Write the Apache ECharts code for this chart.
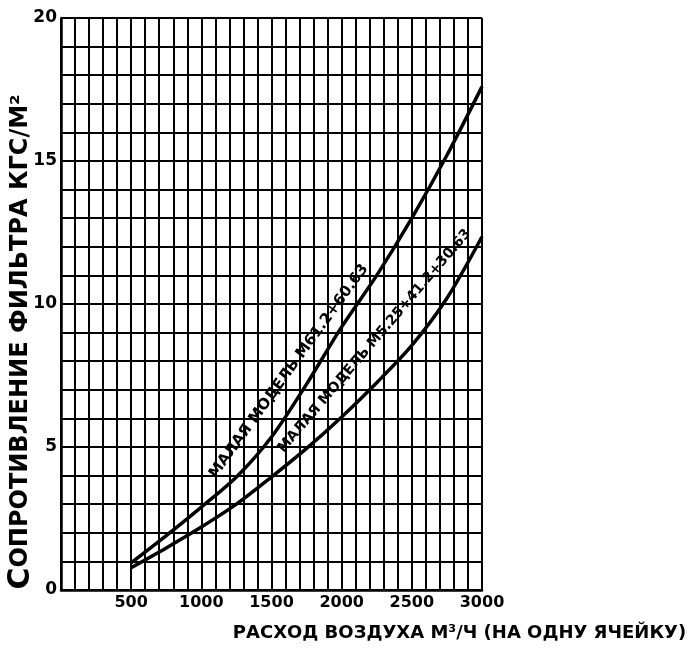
<!DOCTYPE html>
<html><head><meta charset="utf-8">
<script src="https://cdn.jsdelivr.net/npm/echarts/dist/echarts.min.js"></script>
<style>html,body{margin:0;padding:0;background:#fff}#c{width:691px;height:648px}</style>
</head><body><div id="c"></div>
<script>
// Air flow (m³/h per cell) and filter resistance (kgf/m²)
const flowUpper = [500, 750, 1000, 1250, 1500, 1750, 2000, 2250, 2500, 2750, 3000];
const resUpper  = [0.95, 1.9, 2.9, 3.95, 5.35, 7.2, 9.2, 11.0, 13.0, 15.2, 17.6];
const flowLower = [500, 750, 1000, 1250, 1500, 1750, 2000, 2250, 2500, 2750, 3000];
const resLower  = [0.78, 1.47, 2.2, 3.0, 3.95, 4.95, 6.05, 7.25, 8.55, 10.2, 12.35];
const xTickLabels = [500, 1000, 1500, 2000, 2500, 3000];
const yTickLabels = [0, 5, 10, 15, 20];
const labelUpper = 'МАЛАЯ МОДЕЛЬ М61.2+60.63';
const labelLower = 'МАЛАЯ МОДЕЛЬ М5.25+41.2+30.63';
// flow range along which each curve label runs
const labelUpperSpan = [1120, 2290];
const labelLowerSpan = [1620, 3000];

const FONT = '"DejaVu Sans", sans-serif';
const chart = echarts.init(document.getElementById('c'), null, {renderer: 'canvas'});
const zip = (a, b) => a.map((v, i) => [v, b[i]]);

chart.setOption({
  backgroundColor: '#ffffff',
  animation: false,
  grid: {left: 61, right: 209, top: 18, bottom: 58, containLabel: false, outerBoundsMode: 'none'},
  xAxis: {
    type: 'value', min: 0, max: 3000, interval: 100,
    name: 'РАСХОД ВОЗДУХА М³/Ч (НА ОДНУ ЯЧЕЙКУ)',
    nameLocation: 'middle', nameGap: 34, nameMoveOverlap: false,
    nameTextStyle: {color: '#000', fontFamily: FONT, fontWeight: 'bold', fontSize: 18, padding: [0, 0, 0, 376]},
    axisLine: {show: true, lineStyle: {color: '#000', width: 2.5}},
    axisTick: {show: false},
    splitLine: {show: true, lineStyle: {color: '#000', width: 2}},
    axisLabel: {
      color: '#000', fontFamily: FONT, fontWeight: 'bold', fontSize: 16, margin: 5,
      showMinLabel: true, showMaxLabel: true,
      formatter: v => xTickLabels.includes(v) ? String(v) : ''
    }
  },
  yAxis: {
    type: 'value', min: 0, max: 20, interval: 1,
    name: '{big|С}ОПРОТИВЛЕНИЕ ФИЛЬТРА КГС/М²',
    nameLocation: 'middle', nameGap: 25, nameMoveOverlap: false,
    nameTextStyle: {color: '#000', fontFamily: FONT, fontWeight: 'bold', fontSize: 24, padding: [0, 76, 0, 0],
      rich: {big: {fontFamily: FONT, fontWeight: 'bold', fontSize: 30, color: '#000'}}},
    axisLine: {show: true, lineStyle: {color: '#000', width: 2.5}},
    axisTick: {show: false},
    splitLine: {show: true, lineStyle: {color: '#000', width: 2}},
    axisLabel: {
      color: '#000', fontFamily: FONT, fontWeight: 'bold', fontSize: 17, margin: 4,
      showMinLabel: true, showMaxLabel: true,
      formatter: v => yTickLabels.includes(v) ? String(v) : ''
    }
  },
  series: [
    {type: 'line', name: labelUpper, data: zip(flowUpper, resUpper), smooth: 0.3, showSymbol: false,
     lineStyle: {color: '#000', width: 3.5}, z: 5},
    {type: 'line', name: labelLower, data: zip(flowLower, resLower), smooth: 0.3, showSymbol: false,
     lineStyle: {color: '#000', width: 3.5}, z: 5}
  ]
});

function interp(xs, ys, x) {
  for (let i = 0; i < xs.length - 1; i++) {
    if (x <= xs[i + 1]) {
      const t = (x - xs[i]) / (xs[i + 1] - xs[i]);
      return ys[i] + t * (ys[i + 1] - ys[i]);
    }
  }
  return ys[ys.length - 1];
}
function curveLabel(xs, ys, span, text, fontSize, offset) {
  const p1 = chart.convertToPixel({gridIndex: 0}, [span[0], interp(xs, ys, span[0])]);
  const p2 = chart.convertToPixel({gridIndex: 0}, [span[1], interp(xs, ys, span[1])]);
  const a = Math.atan2(p1[1] - p2[1], p2[0] - p1[0]);
  const mx = (p1[0] + p2[0]) / 2 - offset * Math.sin(a);
  const my = (p1[1] + p2[1]) / 2 - offset * Math.cos(a);
  return {type: 'text', x: mx, y: my, rotation: a, z: 10,
    style: {text: text, font: 'bold ' + fontSize + 'px ' + FONT, fill: '#000', align: 'center', verticalAlign: 'middle'}};
}
chart.setOption({
  graphic: [
    curveLabel(flowUpper, resUpper, labelUpperSpan, labelUpper, 15, 14),
    curveLabel(flowLower, resLower, labelLowerSpan, labelLower, 14, 14)
  ]
});
</script>
</body></html>
